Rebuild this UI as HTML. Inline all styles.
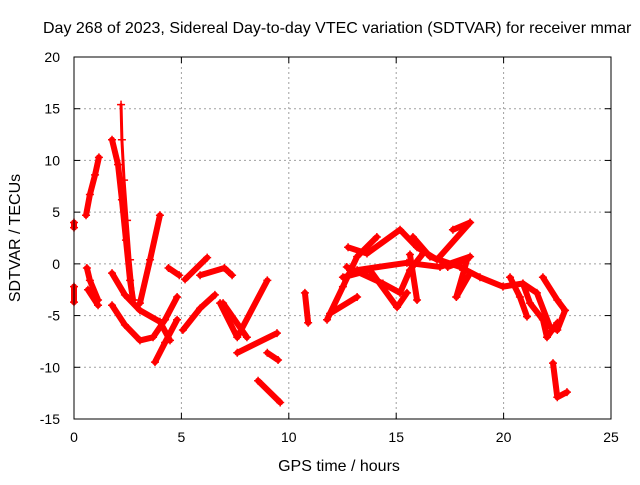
<!DOCTYPE html>
<html><head><meta charset="utf-8"><style>
body{margin:0;background:#fff}
svg text{font-family:"Liberation Sans",sans-serif;font-size:14px;fill:#000}
svg text.big{font-size:16px}
</style></head><body>
<svg id="c" width="640" height="480" xmlns="http://www.w3.org/2000/svg">
<rect width="640" height="480" fill="#fff"/>
<text class="big" x="43" y="33">Day 268 of 2023, Sidereal Day-to-day VTEC variation (SDTVAR) for receiver mmar</text>
<text class="big" x="339" y="471" text-anchor="middle">GPS time / hours</text>
<text class="big" transform="translate(20,238) rotate(-90)" text-anchor="middle">SDTVAR / TECUs</text>
<g id="grid"></g><g id="marks"></g><g id="axes"></g>
</svg>
<script>
const xTicks=[0,5,10,15,20,25];
const yTicks=[-15,-10,-5,0,5,10,15,20];
const tracksT=[
[0,0],[0,0],
[1.77,2.05,2.23,2.42,2.61,2.75],
[2.19,2.23,2.33,2.47,2.61,2.79],
[0.56,0.74,0.98,1.16],
[0.6,0.74,1.12],
[0.65,1.12],
[3.07,3.54,4.0],
[1.77,2.37,3.07,3.68,4.24,4.8],
[1.77,2.37,3.07,4.0,4.47],
[4.8,4.24,3.77],
[5.17,6.2],
[5.07,5.87,6.56],
[6.8,7.6,9.0],
[7.6,9.45],
[8.57,9.6],
[4.4,4.9],
[5.87,7.0,7.36],
[6.94,8.05],
[9.0,9.5],
[10.75,10.9],
[11.78,12.52,13.18,14.1],
[11.92,13.18],
[12.52,13.78,15.04,15.5],
[12.76,13.64,15.18,15.97,16.9,18.44],
[12.7,14.38,15.18,15.64,16.25],
[13.18,15.5,17.04,18.44],
[17.8,18.44],
[17.64,18.44],
[15.78,16.57,17.97,18.9,19.97,20.9,21.55,22.16,22.5,22.86],
[20.9,21.23,21.83,22.02,22.5],
[20.3,20.76,21.09],
[21.83,22.5,22.86],
[22.3,22.5,22.95],
[15.64,15.97],
[17.4,18.3,17.8]
];
const tracksV=[
[4,3.5],[-2.2,-3.7],
[12.0,9.6,6.2,2.3,-1.6,-3.5],
[15.4,12,8.1,4.2,0.4,-3.5],
[4.7,6.7,8.6,10.3],
[-0.4,-1.6,-3.5],
[-2.5,-4],
[-3.8,0.4,4.7],
[-4.0,-5.9,-7.4,-7.1,-5.4,-3.2],
[-0.9,-3,-4.5,-5.6,-7.4],
[-5.4,-7.6,-9.5],
[-1.5,0.6],
[-6.4,-4.3,-3],
[-3.8,-7.1,-1.6],
[-8.6,-6.7],
[-11.3,-13.4],
[-0.4,-1.1],
[-1.1,-0.4,-1.1],
[-3.8,-7.1],
[-8.6,-9.3],
[-2.8,-5.7],
[-5.4,-2.2,0.7,2.6],
[-4.8,-3.2],
[-1.3,-0.6,-4.2,-2.8],
[1.6,1,3.3,1.6,0.4,4],
[-0.3,-1.9,-2.8,-0.6,1],
[-0.6,0.1,-0.3,0.7],
[-3.2,-0.9],
[3.3,4],
[2.6,0.7,-0.3,-1.3,-2.2,-1.9,-2.8,-6.1,-6.4,-4.5],
[-1.9,-3.8,-5.4,-7.1,-5.7],
[-1.3,-3.2,-5.1],
[-1.3,-3.5,-4.5],
[-9.6,-12.9,-12.4],
[0.9,-3.5],
[-0.3,0.4,-3.2]
];
const X0=74,X1=611,Y0=419,Y1=57;
const sx=t=>X0+(t-0)/(25-0)*(X1-X0);
const sy=v=>Y0-(v+15)/(20+15)*(Y0-Y1);
const NS="http://www.w3.org/2000/svg";
const mk=(tag,attrs,parent)=>{const e=document.createElementNS(NS,tag);for(const k in attrs)e.setAttribute(k,attrs[k]);parent.appendChild(e);return e;};
const grid=document.getElementById('grid'),axes=document.getElementById('axes'),marks=document.getElementById('marks');
xTicks.forEach(t=>{
 if(t>0&&t<25){const l=mk('line',{x1:sx(t),x2:sx(t),y1:Y1,y2:Y0,stroke:'#a0a0a0','stroke-dasharray':'2,3'},grid);
 
 }
 mk('line',{x1:sx(t),x2:sx(t),y1:Y0,y2:Y0-6,stroke:'#000'},axes);
 mk('line',{x1:sx(t),x2:sx(t),y1:Y1,y2:Y1+6,stroke:'#000'},axes);
 const tx=mk('text',{x:sx(t),y:Y0+23,'text-anchor':'middle'},axes);tx.textContent=t;
 
 
});
yTicks.forEach(v=>{
 if(v>-15&&v<20){const l=mk('line',{x1:X0,x2:X1,y1:sy(v),y2:sy(v),stroke:'#a0a0a0','stroke-dasharray':'2,3'},grid);
 
 }
 mk('line',{x1:X0,x2:X0+6,y1:sy(v),y2:sy(v),stroke:'#000'},axes);
 mk('line',{x1:X1,x2:X1-6,y1:sy(v),y2:sy(v),stroke:'#000'},axes);
 const tx=mk('text',{x:X0-14,y:sy(v)+5,'text-anchor':'end'},axes);tx.textContent=v;
 
 
});
const fr=mk('rect',{x:X0,y:Y1,width:X1-X0,height:Y0-Y1,fill:'none',stroke:'#000'},axes);


tracksT.forEach((ts,i)=>{
 const vs=tracksV[i];
 const pts=ts.map((t,j)=>sx(t)+','+sy(vs[j])).join(' ');
 const thin=(i===3);
 const p=mk('polyline',{points:pts,fill:'none',stroke:'#ff0000','stroke-width':thin?3:6,'stroke-linejoin':'round','stroke-linecap':'round'},marks);
 
 
 ts.forEach((t,j)=>{
  const x=sx(t),y=sy(vs[j]);
  const m=mk('path',{d:`M${x-4},${y}H${x+4}M${x},${y-4}V${y+4}`,stroke:'#ff0000','stroke-width':1.5},marks);
  
  
 });
});
</script>
</body></html>
